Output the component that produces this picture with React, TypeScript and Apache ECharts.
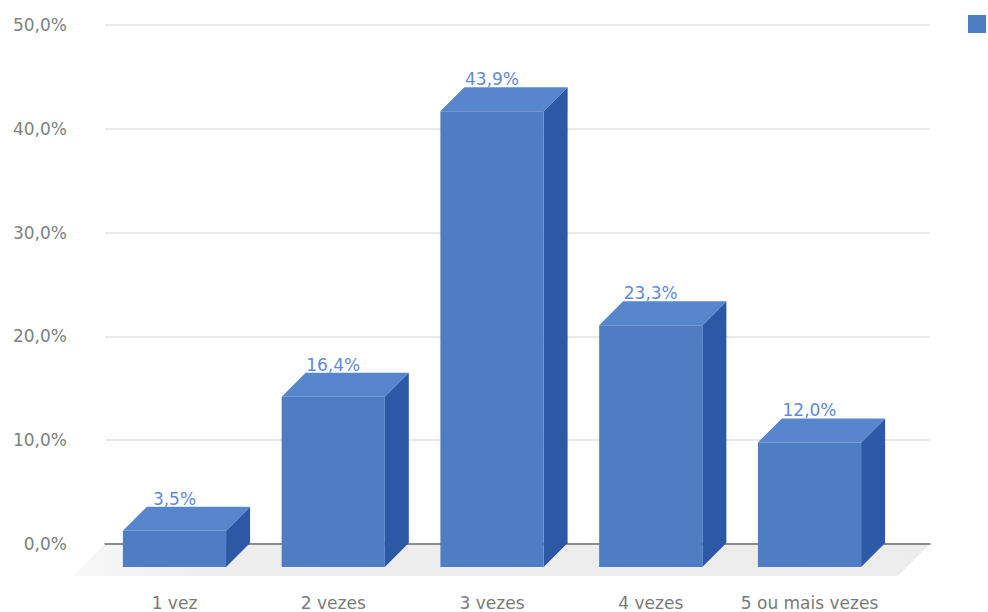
import React, { useEffect, useRef } from "react";
import * as echarts from "echarts";

const categories = ["1 vez", "2 vezes", "3 vezes", "4 vezes", "5 ou mais vezes"];
const values = [3.5, 16.4, 43.9, 23.3, 12.0];
const yTicks = { min: 0, max: 50, interval: 10 };
const seriesName = "Percentual";

const FRONT = "#4f7dc4";
const TOP = "#5786cc";
const SIDE = "#2d58a5";
const LABEL = "#5f8ad8";
const DEPTH = 24;
const FONT = "DejaVu Sans";

const fmt = (v: number) => v.toFixed(1).replace(".", ",") + "%";

export default function App() {
  const ref = useRef<HTMLDivElement>(null);
  useEffect(() => {
    if (!ref.current) return;
    const chart = echarts.init(ref.current, undefined, { renderer: "svg" });
    chart.setOption({
      animation: false,
      backgroundColor: "#ffffff",
      textStyle: { fontFamily: FONT },
      legend: {
        data: [seriesName],
        left: 963,
        top: 10,
        itemWidth: 18,
        itemHeight: 18,
        icon: "rect",
        formatter: () => "",
      },
      grid: [
        { left: 105, right: 58, top: 25, bottom: 68 },
        { left: 95.1, right: 99.1, top: 48, bottom: 45 },
      ],
      xAxis: [
        {
          gridIndex: 0,
          type: "value",
          min: 0,
          max: 1,
          axisLine: { show: true, lineStyle: { color: "#6e6e6e", width: 1.5 } },
          axisTick: { show: false },
          axisLabel: { show: false },
          splitLine: { show: false },
        },
        {
          gridIndex: 1,
          type: "category",
          data: categories,
          axisLine: { show: false },
          axisTick: { show: false },
          axisLabel: {
            color: "#7a7a7a",
            fontSize: 17,
            margin: 27,
            fontFamily: FONT,
            interval: 0,
            hideOverlap: false,
          },
          splitLine: { show: false },
        },
      ],
      yAxis: [
        {
          gridIndex: 0,
          type: "value",
          min: yTicks.min,
          max: yTicks.max,
          interval: yTicks.interval,
          axisLine: { show: false },
          axisTick: { show: false },
          axisLabel: { color: "#808080", fontSize: 17, margin: 38, formatter: fmt, fontFamily: FONT },
          splitLine: { lineStyle: { color: "#e2e2e2", width: 1.5 } },
        },
        {
          gridIndex: 1,
          type: "value",
          min: yTicks.min,
          max: yTicks.max,
          interval: yTicks.interval,
          show: false,
          splitLine: { show: false },
        },
      ],
      series: [
        {
          type: "custom",
          name: "floor",
          xAxisIndex: 0,
          yAxisIndex: 0,
          z: -1,
          silent: true,
          data: [[0, 0]],
          renderItem: (params: any, api: any) => {
            const p0 = api.coord([0, 0]);
            const p1 = api.coord([1, 0]);
            const d = 32;
            return {
              type: "polygon",
              shape: {
                points: [p0, p1, [p1[0] - d, p1[1] + d], [p0[0] - d, p0[1] + d]],
              },
              style: {
                fill: new echarts.graphic.LinearGradient(0, 0, 1, 0, [
                  { offset: 0, color: "#f8f8f8" },
                  { offset: 0.15, color: "#eeeeee" },
                  { offset: 1, color: "#ececec" },
                ]),
              },
            };
          },
        },
        {
          type: "custom",
          name: seriesName,
          xAxisIndex: 1,
          yAxisIndex: 1,
          itemStyle: { color: FRONT },
          data: values.map((v, i) => [i, v]),
          encode: { x: 0, y: 1 },
          renderItem: (params: any, api: any) => {
            const idx = api.value(0);
            const val = api.value(1);
            const top = api.coord([idx, val]);
            const base = api.coord([idx, 0]);
            const w = api.size([1, 0])[0] * 0.65;
            const x0 = top[0] - w / 2;
            const x1 = top[0] + w / 2;
            const yT = top[1];
            const yB = base[1];
            const d = DEPTH;
            return {
              type: "group",
              children: [
                {
                  type: "polygon",
                  shape: { points: [[x1, yT], [x1 + d, yT - d], [x1 + d, yB - d], [x1, yB]] },
                  style: { fill: SIDE },
                },
                {
                  type: "polygon",
                  shape: { points: [[x0, yT], [x0 + d, yT - d], [x1 + d, yT - d], [x1, yT]] },
                  style: { fill: TOP },
                },
                {
                  type: "rect",
                  shape: { x: x0, y: yT, width: w, height: yB - yT },
                  style: { fill: FRONT },
                },
                {
                  type: "text",
                  x: top[0],
                  y: yT - d - 8,
                  style: {
                    text: fmt(val),
                    fill: LABEL,
                    fontSize: 17,
                    fontFamily: FONT,
                    align: "center",
                    verticalAlign: "middle",
                  },
                },
              ],
            };
          },
        },
      ],
    });
    return () => chart.dispose();
  }, []);
  return (
    <div
      ref={ref}
      style={{ position: "fixed", left: 0, top: 0, width: 988, height: 612 }}
    />
  );
}
